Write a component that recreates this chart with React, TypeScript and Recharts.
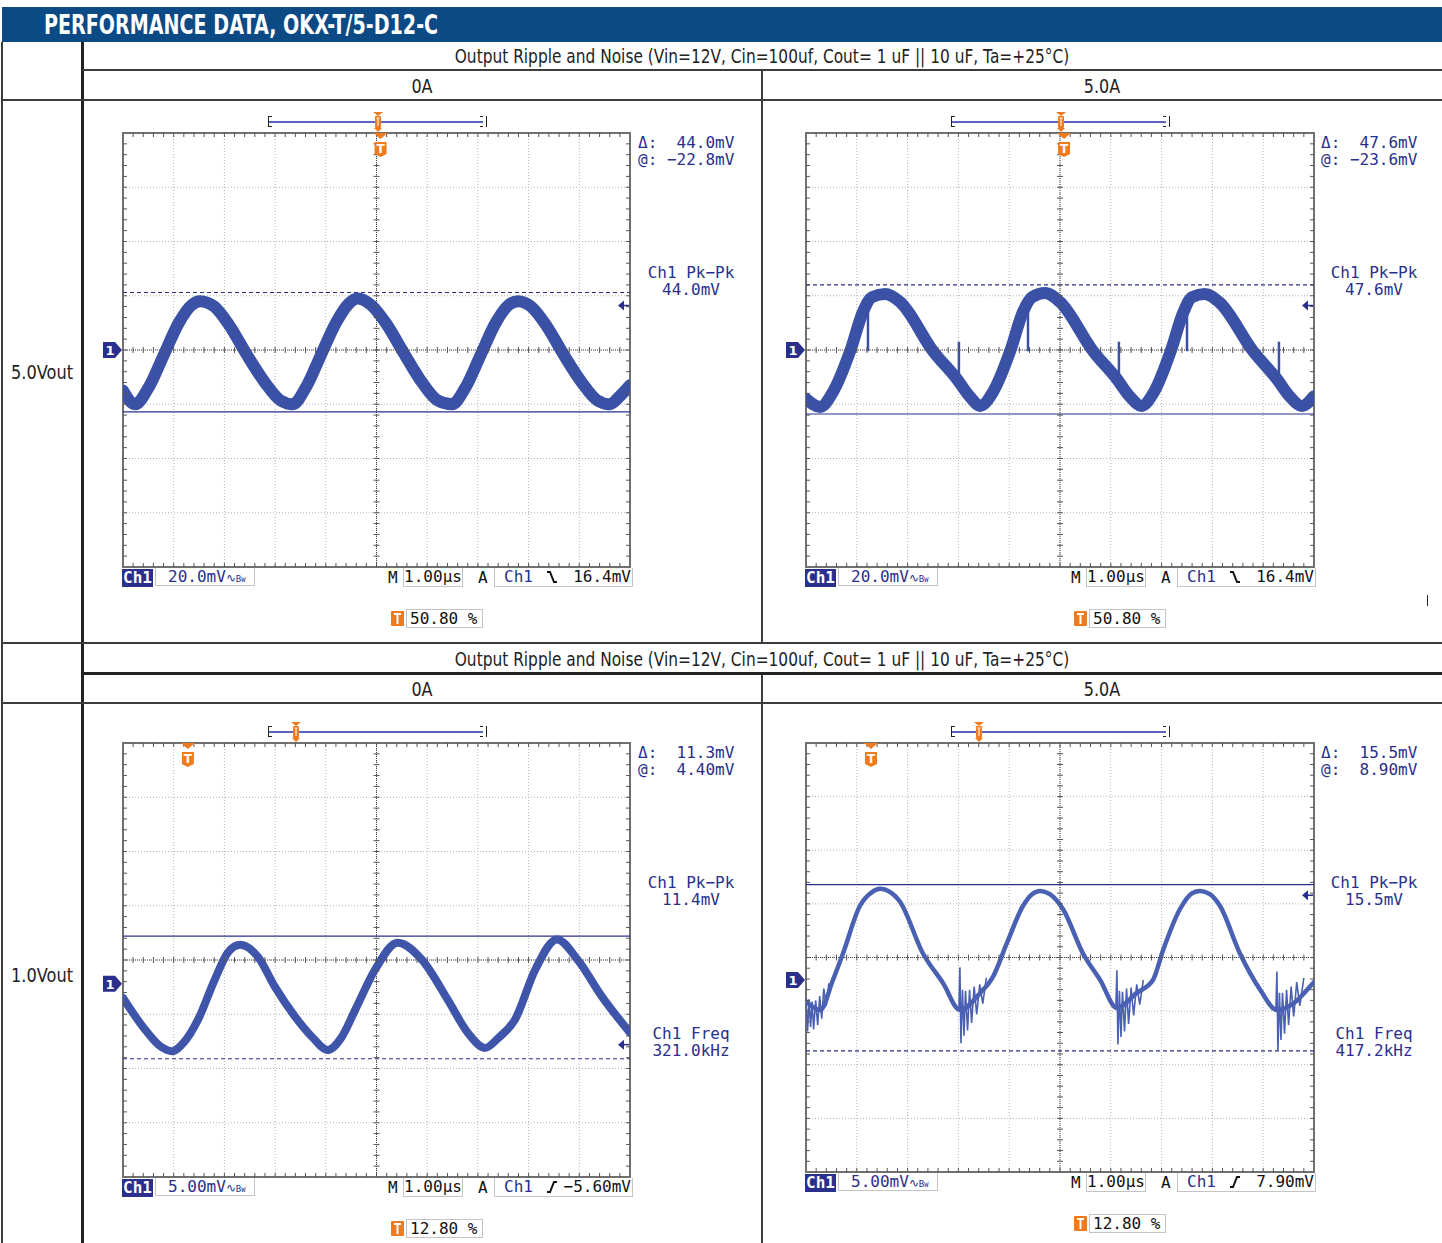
import React from "react";
import {
  ComposedChart,
  Line,
  Scatter,
  XAxis,
  YAxis,
  CartesianGrid,
  ReferenceLine,
  ReferenceArea,
  ReferenceDot,
} from "recharts";

// ---- text / labels ----
const pageTitle = "PERFORMANCE DATA, OKX-T/5-D12-C";
const sectionTitle =
  "Output Ripple and Noise (Vin=12V, Cin=100uf, Cout= 1 uF || 10 uF, Ta=+25°C)";
const loadLabels = ["0A", "5.0A"];
const voutLabels = ["5.0Vout", "1.0Vout"];

// ---- per scope readings: top-left, top-right, bottom-left, bottom-right ----
const voltsPerDiv = [20, 20, 5, 5]; // mV / div
const screenCenter = [0, 0, 2.2, 2.1]; // mV at centre graticule line
const solidCursor = [-22.8, -23.6, 4.4, 8.9];
const dashedCursor = [21.2, 24.0, -6.9, -6.6];
const triggerLevel = [16.4, 16.4, -5.6, 7.9];
const triggerPct = [50.8, 50.8, 12.8, 12.8];
const deltaText = ["44.0mV", "47.6mV", "11.3mV", "15.5mV"];
const atText = ["−22.8mV", "−23.6mV", "4.40mV", "8.90mV"];
const pkPkText = ["44.0mV", "47.6mV", "11.4mV", "15.5mV"];
const freqText = ["", "", "321.0kHz", "417.2kHz"];
const scaleText = ["20.0mV", "20.0mV", "5.00mV", "5.00mV"];
const trigText = ["16.4mV", "16.4mV", "−5.60mV", "7.90mV"];
const trigRising = [false, false, true, true];
const timebaseText = "1.00µs";
const timeTicks = [0, 1, 2, 3, 4, 5, 6, 7, 8, 9, 10];

// ---- waveforms [µs, mV] ----
const waveTL = [
  [0, -15], [0.24, -20], [0.5, -14], [0.8, -2], [1.1, 10], [1.35, 16.5], [1.52, 18],
  [1.8, 16], [2.1, 9], [2.45, -2], [2.8, -12], [3.1, -18.5], [3.35, -20], [3.6, -14],
  [3.9, -2], [4.2, 10], [4.45, 17], [4.62, 19], [4.9, 16.5], [5.2, 9.5], [5.55, -1.5],
  [5.9, -12], [6.2, -18.5], [6.49, -20], [6.75, -14], [7.05, -2], [7.35, 10], [7.6, 16.5],
  [7.79, 18], [8.05, 16], [8.35, 9], [8.7, -2], [9.05, -12], [9.35, -18.5], [9.6, -20],
  [9.8, -17], [10, -13],
];

const waveTR = [
  [0, -18], [0.28, -21], [0.53, -15.5], [0.87, -0.4], [1.12, 14], [1.3, 19.5], [1.56, 20.6],
  [1.85, 17.7], [2.5, -0.4], [2.97, -10.7], [3.23, -17.3], [3.43, -20.6], [3.68, -15.5],
  [4.02, -0.4], [4.27, 14], [4.45, 19.5], [4.71, 21], [5.0, 17.7], [5.65, -0.4],
  [6.12, -10.7], [6.38, -17.3], [6.6, -20.6], [6.85, -15.5], [7.18, -0.4], [7.43, 14],
  [7.6, 19.5], [7.85, 20.6], [8.13, 17.7], [8.8, -0.4], [9.27, -10.7], [9.53, -17.3],
  [9.76, -20.6], [10, -17],
];
// [µs, from mV, to mV]
const spikesTR = [
  [1.22, 17, -0.5], [3.01, -14.4, 3], [4.37, 17.5, -0.5],
  [6.16, -15, 3], [7.5, 16.5, -0.5], [9.31, -13.5, 3],
];

const waveBL = [
  [0, -1.3], [0.45, -4.3], [0.75, -5.8], [0.97, -6.2], [1.2, -5.4], [1.48, -3.3], [1.81, 0.4],
  [2.07, 2.9], [2.31, 3.6], [2.66, 2.5], [3.0, -0.3], [3.39, -3.0], [3.73, -4.9],
  [4.04, -6.1], [4.3, -5.0], [4.58, -2.4], [4.97, 1.3], [5.42, 3.8], [5.9, 2.2],
  [6.41, -1.5], [6.8, -4.5], [7.14, -5.9], [7.4, -5.0], [7.73, -3.3], [8.13, 1.3],
  [8.56, 4.1], [8.97, 2.2], [9.45, -1.2], [10, -4.5],
];

const waveBR = [
  [0, -2.0], [0.28, -2.8], [0.53, 0], [0.73, 2.5], [1.06, 6.9], [1.3, 8.2], [1.46, 8.5],
  [1.62, 8.3], [1.85, 7.3], [2.3, 2.5], [2.7, -0.3], [3.03, -2.8], [3.43, -1.2], [3.68, 0.3],
  [3.96, 3.5], [4.27, 6.9], [4.45, 8.0], [4.61, 8.3], [4.8, 8.0], [5.06, 6.6], [5.45, 2.5],
  [5.79, 0], [6.12, -2.6], [6.51, -1.2], [6.83, 0], [7.03, 2.8], [7.36, 6.6], [7.6, 8.1],
  [7.76, 8.3], [7.95, 8.0], [8.15, 6.9], [8.54, 2.5], [8.94, -0.9], [9.27, -2.8],
  [9.59, -2.2], [9.98, -0.3], [10, -0.2],
];
const burstsBR = [
  [[0, -1.6], [0.03, -4.8], [0.06, -1.8], [0.09, -4.4], [0.12, -2.0], [0.15, -4.6], [0.19, -1.9],
    [0.23, -4.2], [0.27, -1.5], [0.31, -3.6], [0.35, -0.8], [0.4, -2.4], [0.45, -0.3]],
  [[3.01, -2.6], [3.03, 1.2], [3.05, -5.9], [3.08, -0.9], [3.11, -5.2], [3.14, -1.0], [3.18, -4.7],
    [3.22, -0.9], [3.26, -4.0], [3.31, -0.6], [3.36, -3.2], [3.42, -0.4], [3.48, -2.2], [3.55, 0.2]],
  [[6.1, -2.5], [6.12, 0.9], [6.14, -6.0], [6.17, -1.0], [6.2, -5.3], [6.23, -1.1], [6.27, -4.8],
    [6.31, -0.8], [6.35, -4.1], [6.4, -0.7], [6.45, -3.3], [6.51, -0.4], [6.57, -2.3], [6.64, 0.0]],
  [[9.25, -2.6], [9.27, 0.8], [9.29, -6.6], [9.32, -1.2], [9.35, -5.6], [9.38, -1.2], [9.42, -5.0],
    [9.46, -0.9], [9.5, -4.2], [9.55, -0.6], [9.6, -3.4], [9.66, -0.2], [9.72, -2.4], [9.8, 0.2]],
];

// ---- layout ----
const scopeLeft = [123, 806, 123, 806];
const scopeTop = [133, 133, 743, 743];
const scopeWidth = [507, 508, 507, 508];
const scopeHeight = [434, 434, 434, 429];
const waves = [waveTL, waveTR, waveBL, waveBR];
const waveStroke = [12, 12, 8, 4.5];
const waveColor = ["#3b51a6", "#3b51a6", "#3e55aa", "#4a60b2"];

const NAVY = "#2a2f8c";
const ORANGE = "#f07a1e";
const MONO = "'DejaVu Sans Mono', monospace";
const SANS = "'DejaVu Sans', sans-serif";
const LINE = "#3c3c3c";

const pts = (arr: number[][]) => arr.map(([t, v]) => ({ t, v }));
const spikePts = (arr: number[][]) =>
  arr.flatMap(([t, a, b]) => [{ t, v: a }, { t, v: b }, { t, v: null }]);
const burstPts = (arr: number[][][]) =>
  arr.flatMap((b) => [...pts(b), { t: b[b.length - 1][0], v: null }]);

const vTick = (d1: number, d2: number) => (p: any) =>
  <line x1={p.cx} x2={p.cx} y1={p.cy + d1} y2={p.cy + d2} stroke="#555" strokeWidth={1} />;
const hTick = (d1: number, d2: number) => (p: any) =>
  <line x1={p.cx + d1} x2={p.cx + d2} y1={p.cy} y2={p.cy} stroke="#555" strokeWidth={1} />;

const GroundMarker = (p: any) => (
  <g>
    <path
      d={`M${p.cx - 20},${p.cy - 8} H${p.cx - 8} L${p.cx - 1},${p.cy} L${p.cx - 8},${p.cy + 8} H${p.cx - 20} Z`}
      fill={NAVY}
    />
    <text x={p.cx - 13} y={p.cy + 5} fill="#fff" fontSize={13} fontWeight="bold"
      textAnchor="middle" fontFamily="DejaVu Sans">1</text>
  </g>
);

const TrigArrow = (p: any) => (
  <g>
    <path d={`M${p.cx - 12},${p.cy} L${p.cx - 6},${p.cy - 5} L${p.cx - 6},${p.cy + 5} Z`} fill={NAVY} />
    <line x1={p.cx - 7} x2={p.cx - 1} y1={p.cy} y2={p.cy} stroke={NAVY} strokeWidth={1.5} />
  </g>
);

const TrigMark = (p: any) => (
  <g>
    <path d={`M${p.cx - 7},${p.cy} L${p.cx + 7},${p.cy} L${p.cx},${p.cy + 6} Z`} fill={ORANGE} />
    <path
      d={`M${p.cx - 6},${p.cy + 9} H${p.cx + 6} V${p.cy + 21} L${p.cx},${p.cy + 24} L${p.cx - 6},${p.cy + 21} Z`}
      fill={ORANGE}
    />
    <text x={p.cx} y={p.cy + 20} fill="#fff" fontSize={12} fontWeight="bold"
      textAnchor="middle" fontFamily="DejaVu Sans">T</text>
  </g>
);

const SlopeIcon = ({ rising }: { rising: boolean }) => (
  <svg width={12} height={14} style={{ position: "absolute", left: 0, top: 2 }}>
    <path d={rising ? "M1,12 H4 L8,2 H11" : "M1,2 H4 L8,12 H11"} fill="none" stroke="#111" strokeWidth={2} />
  </svg>
);

const TIcon = ({ left, top }: { left: number; top: number }) => (
  <svg width={13} height={15} style={{ position: "absolute", left, top }}>
    <rect x={0} y={0} width={13} height={15} rx={1} fill={ORANGE} />
    <path d="M3,3 H10 M6.5,3 V13" stroke="#fff" strokeWidth={2} />
  </svg>
);

const abs = (left: number, top: number, extra: React.CSSProperties = {}): React.CSSProperties => ({
  position: "absolute", left, top, ...extra,
});

function Scope({ i }: { i: number }) {
  const gx = scopeLeft[i], gy = scopeTop[i], gw = scopeWidth[i], gh = scopeHeight[i];
  const gb = gy + gh;
  const div = voltsPerDiv[i], mid = screenCenter[i];
  const yMin = +(mid - 4 * div).toFixed(2), yMax = +(mid + 4 * div).toFixed(2);
  const yTicks = Array.from({ length: 9 }, (_, k) => +(yMin + k * div).toFixed(2));
  const yMinor = Array.from({ length: 39 }, (_, k) => +(yMin + ((k + 1) * div) / 5).toFixed(3));
  const tMinor = Array.from({ length: 49 }, (_, k) => +((k + 1) * 0.2).toFixed(1));
  const M = { top: 40, right: 20, bottom: 10, left: 30 };
  const trigT = triggerPct[i] / 10;
  const barL = gx + 145, barW = 217;
  const markX = barL + (triggerPct[i] / 100) * barW;

  return (
    <>
      <div style={abs(gx - M.left, gy - M.top)}>
        <ComposedChart width={gw + M.left + M.right} height={gh + M.top + M.bottom} margin={M}>
          <XAxis type="number" dataKey="t" domain={[0, 10]} ticks={timeTicks} hide allowDataOverflow />
          <YAxis type="number" dataKey="v" domain={[yMin, yMax]} ticks={yTicks} hide allowDataOverflow />
          <CartesianGrid stroke="#b4b4b4" strokeDasharray="1 2" />
          <ReferenceLine x={5} stroke="#444" strokeDasharray="1 1" />
          <ReferenceLine y={mid} stroke="#444" strokeDasharray="1 1" />
          <Scatter data={tMinor.map((t) => ({ t, v: yMax }))} dataKey="v" shape={vTick(0, 4)} isAnimationActive={false} />
          <Scatter data={tMinor.map((t) => ({ t, v: yMin }))} dataKey="v" shape={vTick(-4, 0)} isAnimationActive={false} />
          <Scatter data={tMinor.map((t) => ({ t, v: mid }))} dataKey="v" shape={vTick(-3, 3)} isAnimationActive={false} />
          <Scatter data={yMinor.map((v) => ({ t: 0, v }))} dataKey="v" shape={hTick(0, 4)} isAnimationActive={false} />
          <Scatter data={yMinor.map((v) => ({ t: 10, v }))} dataKey="v" shape={hTick(-4, 0)} isAnimationActive={false} />
          <Scatter data={yMinor.map((v) => ({ t: 5, v }))} dataKey="v" shape={hTick(-3, 3)} isAnimationActive={false} />
          <ReferenceArea x1={0} x2={10} y1={yMin} y2={yMax} fill="none" stroke="#707070" strokeWidth={2} ifOverflow="visible" />
          <ReferenceLine y={dashedCursor[i]} stroke={NAVY} strokeWidth={1.2} strokeDasharray="4 3" />
          <ReferenceLine y={solidCursor[i]} stroke={NAVY} strokeWidth={1.2} />
          <Line
            data={pts(waves[i])}
            dataKey="v"
            type="monotone"
            stroke={waveColor[i]}
            strokeWidth={waveStroke[i]}
            strokeLinecap="round"
            strokeLinejoin="round"
            dot={false}
            isAnimationActive={false}
          />
          {i === 1 && (
            <Line data={spikePts(spikesTR)} dataKey="v" type="linear" stroke={waveColor[i]}
              strokeWidth={2.5} dot={false} isAnimationActive={false} />
          )}
          {i === 3 && (
            <Line data={burstPts(burstsBR)} dataKey="v" type="linear" stroke={waveColor[i]}
              strokeWidth={1.6} dot={false} isAnimationActive={false} />
          )}
          <ReferenceDot x={0} y={0} shape={GroundMarker} ifOverflow="visible" />
          <ReferenceDot x={10} y={triggerLevel[i]} shape={TrigArrow} ifOverflow="visible" />
          <ReferenceDot x={trigT} y={yMax} shape={TrigMark} ifOverflow="visible" />
        </ComposedChart>
      </div>

      {/* record bar above the graticule */}
      <div style={abs(barL, gy - 17, { width: barW, height: 11, borderLeft: "1.5px solid #222", borderRight: "1.5px solid #222" })}>
        <div style={abs(0, 5, { width: barW - 3, height: 1.5, background: "#5a63c0" })} />
        <div style={abs(0, 0, { width: 3, height: 1, background: "#222" })} />
        <div style={abs(0, 10, { width: 3, height: 1, background: "#222" })} />
        <div style={abs(barW - 6, 0, { width: 3, height: 1, background: "#222" })} />
        <div style={abs(barW - 6, 10, { width: 3, height: 1, background: "#222" })} />
      </div>
      <svg width={12} height={20} style={abs(markX - 6, gy - 21)}>
        <path d="M1,0 H11 L6,4 Z" fill={ORANGE} />
        <rect x={3} y={4} width={6} height={12} rx={1} fill={ORANGE} />
        <path d="M4.5,6 H7.5 M6,6 V14" stroke="#fff" strokeWidth={1} />
        <path d="M2,16 H10 L6,20 Z" fill={ORANGE} />
      </svg>

      {/* readouts */}
      <div style={abs(gx + 515, gy + 1, { font: `16px ${MONO}`, color: NAVY, whiteSpace: "pre", lineHeight: "17px" })}>
        {"Δ:" + deltaText[i].padStart(8)}
        <br />
        {"@:" + atText[i].padStart(8)}
      </div>
      <div style={abs(gx + 518, gy + 131, { width: 100, textAlign: "center", font: `16px ${MONO}`, color: NAVY, lineHeight: "17px" })}>
        Ch1 Pk−Pk
        <br />
        {pkPkText[i]}
      </div>
      {freqText[i] && (
        <div style={abs(gx + 518, gy + 282, { width: 100, textAlign: "center", font: `16px ${MONO}`, color: NAVY, lineHeight: "17px" })}>
          Ch1 Freq
          <br />
          {freqText[i]}
        </div>
      )}

      {/* status line */}
      <div style={abs(gx - 1, gb + 2, { width: 31, height: 18, background: NAVY, color: "#fff", font: `bold 16px ${MONO}`, lineHeight: "18px", textAlign: "center" })}>
        Ch1
      </div>
      <div style={abs(gx + 32, gb + 1, { width: 100, height: 18, border: "1px solid #c4c4c4", borderTop: "none", boxSizing: "border-box" })}>
        <span style={abs(12, 0, { font: `16px ${MONO}`, color: NAVY, lineHeight: "18px", whiteSpace: "nowrap" })}>
          {scaleText[i]}
          <span style={{ fontSize: 12 }}>∿</span>
          <span style={{ fontSize: 9 }}>B</span>
          <span style={{ fontSize: 7 }}>W</span>
        </span>
      </div>
      <div style={abs(gx + 265, gb + 2, { font: `16px ${MONO}`, color: "#111", lineHeight: "18px" })}>M</div>
      <div style={abs(gx + 280, gb + 1, { width: 60, height: 19, border: "1px solid #c4c4c4", borderTop: "none", boxSizing: "border-box", font: `16px ${MONO}`, color: "#111", lineHeight: "18px", textAlign: "center" })}>
        {timebaseText}
      </div>
      <div style={abs(gx + 355, gb + 2, { font: `16px ${MONO}`, color: "#111", lineHeight: "18px" })}>A</div>
      <div style={abs(gx + 371, gb + 1, { width: 139, height: 19, border: "1px solid #c4c4c4", borderTop: "none", boxSizing: "border-box" })}>
        <span style={abs(9, 0, { font: `16px ${MONO}`, color: NAVY, lineHeight: "18px" })}>Ch1</span>
        <div style={abs(51, 0)}>
          <SlopeIcon rising={trigRising[i]} />
        </div>
        <span style={abs(64, 0, { width: 72, textAlign: "right", font: `16px ${MONO}`, color: "#111", lineHeight: "18px" })}>
          {trigText[i]}
        </span>
      </div>

      {/* trigger position */}
      <TIcon left={gx + 268} top={gb + 44} />
      <div style={abs(gx + 283, gb + 42, { width: 77, height: 19, border: "1px solid #c4c4c4", boxSizing: "border-box", font: `16px ${MONO}`, color: "#111", lineHeight: "17px", paddingLeft: 3 })}>
        {triggerPct[i].toFixed(2) + " %"}
      </div>
    </>
  );
}

const hLine = (x: number, y: number, w: number, t = 2, c = LINE) => (
  <div style={abs(x, y, { width: w, height: t, background: c })} />
);
const vLine = (x: number, y: number, h: number, t = 2, c = LINE) => (
  <div style={abs(x, y, { width: t, height: h, background: c })} />
);

export default function App() {
  const rowTitleTops = [42, 645];
  const loadTops = [70, 673];
  const voutCenters = [372, 975];
  return (
    <div style={abs(0, 0, { width: 1442, height: 1243, background: "#fff", overflow: "hidden", fontFamily: SANS })}>
      {/* header bar */}
      <div style={abs(2, 7, { width: 1440, height: 35, background: "#0c4a86" })}>
        <div style={abs(42, 0, { color: "#fff", fontSize: 26, fontWeight: "bold", lineHeight: "36px", whiteSpace: "nowrap", transform: "scaleX(0.735)", transformOrigin: "left center" })}>
          {pageTitle}
        </div>
      </div>

      {/* table rules */}
      {vLine(1, 42, 1201)}
      {vLine(81, 42, 1201, 3, "#222")}
      {vLine(761, 70, 573)}
      {vLine(761, 673, 570)}
      {hLine(82, 69, 1360)}
      {hLine(1, 99, 1441)}
      {hLine(1, 642, 1441)}
      {hLine(82, 672, 1360, 3, "#222")}
      {hLine(1, 702, 1441)}
      {vLine(1427, 595, 11, 1, "#222")}

      {rowTitleTops.map((top, r) => (
        <React.Fragment key={r}>
          <div style={abs(82, top, { width: 1360, height: 28, textAlign: "center", fontSize: 20, lineHeight: "29px", color: "#222", whiteSpace: "nowrap", transform: "scaleX(0.77)" })}>
            {sectionTitle}
          </div>
          {loadLabels.map((l, c) => (
            <div key={l} style={abs(82 + c * 680, loadTops[r], { width: 680, height: 30, textAlign: "center", fontSize: 20, lineHeight: "32px", color: "#222", transform: "scaleX(0.8)" })}>
              {l}
            </div>
          ))}
          <div style={abs(2, voutCenters[r] - 13, { width: 80, textAlign: "center", fontSize: 20, lineHeight: "26px", color: "#222", transform: "scaleX(0.81)" })}>
            {voutLabels[r]}
          </div>
        </React.Fragment>
      ))}

      {[0, 1, 2, 3].map((i) => (
        <Scope key={i} i={i} />
      ))}
    </div>
  );
}
